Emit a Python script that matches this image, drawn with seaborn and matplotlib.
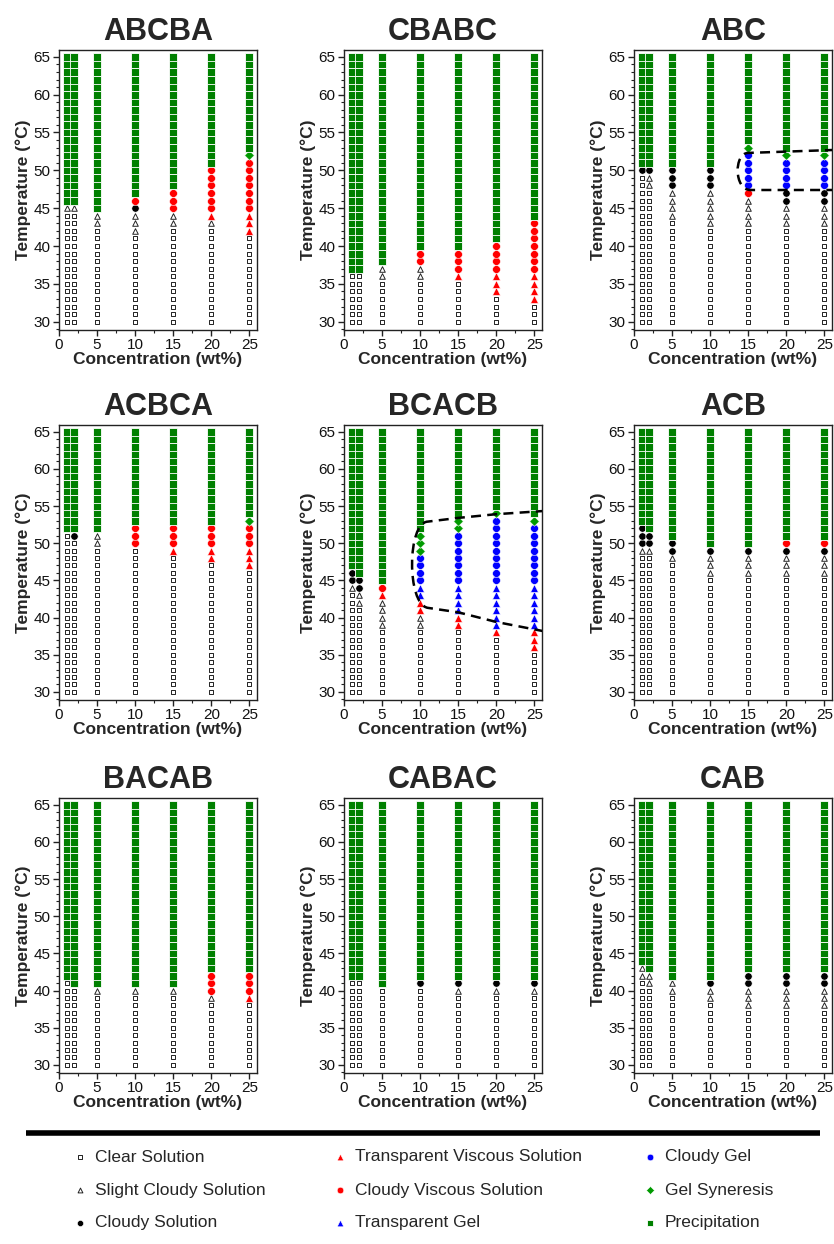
import numpy as np
import pandas as pd
import matplotlib
matplotlib.use("Agg")
import matplotlib.pyplot as plt
from matplotlib.path import Path
from matplotlib.patches import PathPatch
from matplotlib.ticker import MultipleLocator
import seaborn as sns

sns.set_style("ticks")
plt.rcParams["font.family"] = ["Liberation Sans", "DejaVu Sans"]

# -----------------------------
# Data: concentrations and state runs (state, last temperature of run)
# -----------------------------
CONC = [1, 2, 5, 10, 15, 20, 25]
T_START = 30

ABCBA = [
    [("CS", 44), ("SC", 45), ("P", 65)],
    [("CS", 44), ("SC", 45), ("P", 65)],
    [("CS", 42), ("SC", 44), ("P", 65)],
    [("CS", 41), ("SC", 44), ("CL", 45), ("CV", 46), ("P", 65)],
    [("CS", 42), ("SC", 44), ("CV", 47), ("P", 65)],
    [("CS", 42), ("SC", 43), ("TV", 44), ("CV", 50), ("P", 65)],
    [("CS", 41), ("TV", 44), ("CV", 51), ("GS", 52), ("P", 65)],
]
CBABC = [
    [("CS", 36), ("P", 65)],
    [("CS", 36), ("P", 65)],
    [("CS", 35), ("SC", 37), ("P", 65)],
    [("CS", 35), ("SC", 37), ("CV", 39), ("P", 65)],
    [("CS", 35), ("TV", 36), ("CV", 39), ("P", 65)],
    [("CS", 33), ("TV", 36), ("CV", 40), ("P", 65)],
    [("CS", 32), ("TV", 36), ("CV", 43), ("P", 65)],
]
ABC = [
    [("CS", 49), ("CL", 50), ("P", 65)],
    [("CS", 47), ("SC", 49), ("CL", 50), ("P", 65)],
    [("CS", 43), ("SC", 47), ("CL", 50), ("P", 65)],
    [("CS", 42), ("SC", 47), ("CL", 50), ("P", 65)],
    [("CS", 42), ("SC", 46), ("CV", 47), ("CG", 52), ("GS", 53), ("P", 65)],
    [("CS", 42), ("SC", 45), ("CL", 47), ("CG", 51), ("GS", 52), ("P", 65)],
    [("CS", 42), ("SC", 45), ("CL", 47), ("CG", 51), ("GS", 52), ("P", 65)],
]
ACBCA = [
    [("CS", 51), ("P", 65)],
    [("CS", 50), ("CL", 51), ("P", 65)],
    [("CS", 49), ("SC", 51), ("P", 65)],
    [("CS", 49), ("CV", 52), ("P", 65)],
    [("CS", 48), ("TV", 49), ("CV", 52), ("P", 65)],
    [("CS", 47), ("TV", 49), ("CV", 52), ("P", 65)],
    [("CS", 46), ("TV", 49), ("CV", 52), ("GS", 53), ("P", 65)],
]
BCACB = [
    [("CS", 43), ("SC", 44), ("CL", 46), ("P", 65)],
    [("CS", 41), ("SC", 43), ("CL", 45), ("P", 65)],
    [("CS", 38), ("SC", 42), ("TV", 43), ("CV", 44), ("P", 65)],
    [("CS", 38), ("SC", 40), ("TV", 42), ("TG", 44), ("CG", 48), ("GS", 51), ("P", 65)],
    [("CS", 38), ("TV", 40), ("TG", 44), ("CG", 51), ("GS", 53), ("P", 65)],
    [("CS", 37), ("TV", 38), ("TG", 44), ("CG", 53), ("GS", 54), ("P", 65)],
    [("CS", 35), ("TV", 38), ("TG", 44), ("CG", 52), ("GS", 53), ("P", 65)],
]
ACB = [
    [("CS", 48), ("SC", 49), ("CL", 52), ("P", 65)],
    [("CS", 48), ("SC", 49), ("CL", 51), ("P", 65)],
    [("CS", 47), ("SC", 48), ("CL", 50), ("P", 65)],
    [("CS", 45), ("SC", 48), ("CL", 49), ("P", 65)],
    [("CS", 45), ("SC", 48), ("CL", 49), ("P", 65)],
    [("CS", 45), ("SC", 48), ("CL", 49), ("CV", 50), ("P", 65)],
    [("CS", 45), ("SC", 48), ("CL", 49), ("CV", 50), ("P", 65)],
]
BACAB = [
    [("CS", 41), ("P", 65)],
    [("CS", 40), ("P", 65)],
    [("CS", 39), ("SC", 40), ("P", 65)],
    [("CS", 39), ("SC", 40), ("P", 65)],
    [("CS", 39), ("SC", 40), ("P", 65)],
    [("CS", 38), ("SC", 39), ("CV", 42), ("P", 65)],
    [("CS", 38), ("TV", 39), ("CV", 42), ("P", 65)],
]
CABAC = [
    [("CS", 41), ("P", 65)],
    [("CS", 41), ("P", 65)],
    [("CS", 40), ("P", 65)],
    [("CS", 40), ("CL", 41), ("P", 65)],
    [("CS", 39), ("SC", 40), ("CL", 41), ("P", 65)],
    [("CS", 39), ("SC", 40), ("CL", 41), ("P", 65)],
    [("CS", 39), ("SC", 40), ("CL", 41), ("P", 65)],
]
CAB = [
    [("CS", 41), ("SC", 43), ("P", 65)],
    [("CS", 40), ("SC", 42), ("P", 65)],
    [("CS", 39), ("SC", 41), ("P", 65)],
    [("CS", 38), ("SC", 40), ("CL", 41), ("P", 65)],
    [("CS", 37), ("SC", 40), ("CL", 42), ("P", 65)],
    [("CS", 37), ("SC", 40), ("CL", 42), ("P", 65)],
    [("CS", 37), ("SC", 40), ("CL", 42), ("P", 65)],
]

PANELS = [("ABCBA", ABCBA), ("CBABC", CBABC), ("ABC", ABC),
          ("ACBCA", ACBCA), ("BCACB", BCACB), ("ACB", ACB),
          ("BACAB", BACAB), ("CABAC", CABAC), ("CAB", CAB)]

# dashed phase-boundary guides (drawn as paths)
ABC_LOOP = [(26.5, 52.7), (15.0, 52.3), (13.1, 52.3), (13.1, 47.4), (15.3, 47.4), (26.5, 47.4)]
BCACB_LOOP = [(26.5, 54.35), (20, 53.9), (15, 53.4), (11.0, 52.9), (8.3, 52.8),
              (8.2, 41.8), (11.0, 41.3), (15, 40.7), (20, 39.4), (26.5, 38.1)]

STATE_ORDER = ["CS", "SC", "CL", "TV", "CV", "TG", "CG", "GS", "P"]
STATE_NAMES = {
    "CS": "Clear Solution", "SC": "Slight Cloudy Solution", "CL": "Cloudy Solution",
    "TV": "Transparent Viscous Solution", "CV": "Cloudy Viscous Solution",
    "TG": "Transparent Gel", "CG": "Cloudy Gel", "GS": "Gel Syneresis",
    "P": "Precipitation",
}
# marker, face, edge, size, linewidth
STYLE = {
    "CS": ("s", "white", "#222222", 9, 0.7),
    "SC": ("^", "white", "#222222", 16, 0.7),
    "CL": ("o", "black", "white", 28, 0.4),
    "TV": ("^", "#ff0000", "white", 32, 0.4),
    "CV": ("o", "#ff0000", "white", 32, 0.4),
    "TG": ("^", "#0000ff", "white", 32, 0.4),
    "CG": ("o", "#0000ff", "white", 32, 0.4),
    "GS": ("D", "#009a00", "white", 24, 0.4),
    "P": ("s", "#008000", "white", 27, 0.6),
}


def expand(runs_per_conc):
    rows = []
    for c, runs in zip(CONC, runs_per_conc):
        t0 = T_START
        for state, t_end in runs:
            for t in range(t0, t_end + 1):
                rows.append((c, t, state))
            t0 = t_end + 1
    return pd.DataFrame(rows, columns=["conc", "temp", "state"])


def draw_loop(ax, pts, codes):
    path = Path(pts, codes)
    ax.add_patch(PathPatch(path, fill=False, lw=1.8, ec="black",
                           ls=(0, (4, 2.5)), zorder=5))


fig = plt.figure(figsize=(8.34, 12.44), dpi=100)
W, H = 834, 1244
col_left = [59, 344, 634]
ax_w = 198
rows_tb = [(50, 330), (425, 700), (798, 1073)]

for i, (name, runs) in enumerate(PANELS):
    r, c = divmod(i, 3)
    top, bot = rows_tb[r]
    ax = fig.add_axes([col_left[c] / W, 1 - bot / H, ax_w / W, (bot - top) / H])
    df = expand(runs)
    for st in STATE_ORDER:
        sub = df[df["state"] == st]
        if sub.empty:
            continue
        m, fc, ec, s, lw = STYLE[st]
        sns.scatterplot(data=sub, x="conc", y="temp", marker=m, color=fc,
                        edgecolor=ec, s=s, linewidth=lw, ax=ax, zorder=3,
                        legend=False)
    ax.set_xlim(0, 26)
    ax.set_ylim(28.9, 65.9)
    ax.xaxis.set_major_locator(MultipleLocator(5))
    ax.xaxis.set_minor_locator(MultipleLocator(2.5))
    ax.yaxis.set_major_locator(MultipleLocator(5))
    ax.yaxis.set_minor_locator(MultipleLocator(1))
    ax.tick_params(which="major", direction="out", length=4, width=1,
                   labelsize=11, color="#222222", labelcolor="#111111", pad=2)
    ax.tick_params(which="minor", direction="out", length=2.5, width=0.8,
                   color="#222222")
    for sp in ax.spines.values():
        sp.set_visible(True)
        sp.set_linewidth(1)
        sp.set_color("#222222")
    ax.set_xlabel("Concentration (wt%)", fontsize=12.5, fontweight="bold", labelpad=0)
    ax.set_ylabel("Temperature (°C)", fontsize=12.5, fontweight="bold", labelpad=2)
    ax.set_title(name, fontsize=22, fontweight="bold", pad=7)

    if name == "ABC":
        draw_loop(ax, ABC_LOOP, [Path.MOVETO, Path.LINETO, Path.CURVE4,
                                 Path.CURVE4, Path.CURVE4, Path.LINETO])
    if name == "BCACB":
        draw_loop(ax, BCACB_LOOP, [Path.MOVETO, Path.LINETO, Path.LINETO,
                                   Path.LINETO, Path.CURVE4, Path.CURVE4,
                                   Path.CURVE4, Path.LINETO, Path.LINETO,
                                   Path.LINETO])

# -----------------------------
# Legend block at the bottom
# -----------------------------
lax = fig.add_axes([0, 0, 1, 1], facecolor="none")
lax.set_xlim(0, W)
lax.set_ylim(H, 0)
lax.axis("off")
lax.plot([26, 820], [1133, 1133], color="black", lw=4, solid_capstyle="butt")

leg_x = [80, 340, 650]
leg_y = [1157, 1190, 1223]
for k, st in enumerate(STATE_ORDER):
    col, row = divmod(k, 3)
    m, fc, ec, s, lw = STYLE[st]
    lax.scatter([leg_x[col]], [leg_y[row]], marker=m, c=fc, edgecolors=ec,
                s=max(s * 0.7, 12), linewidths=lw)
    lax.text(leg_x[col] + 15, leg_y[row], STATE_NAMES[st], fontsize=12.5,
             va="center", ha="left")

fig.savefig("out.png", dpi=100)
